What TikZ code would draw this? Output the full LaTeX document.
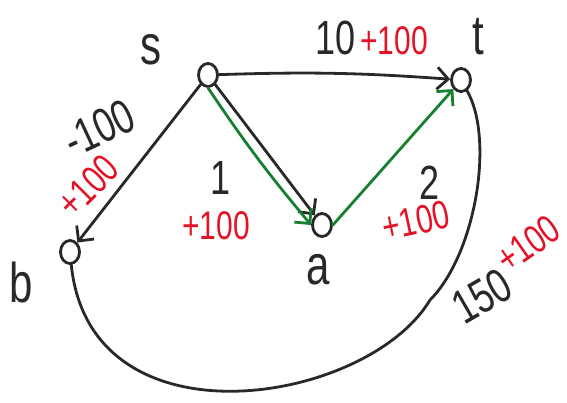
\documentclass[tikz,border=0pt]{standalone}
\usepackage{fontspec}
\setmainfont{Liberation Sans}[FakeStretch=0.75]
\usepackage{xcolor}
\usetikzlibrary{arrows.meta}
\usetikzlibrary{shapes.geometric}

\definecolor{penblack}{RGB}{40,40,40}
\definecolor{penred}{RGB}{228,18,38}
\definecolor{pengreen}{RGB}{22,128,48}

\tikzset{
    vertex/.style={draw=penblack, ellipse, line width=2.8pt, minimum width=19pt, minimum height=23pt, inner sep=0pt},
    edge/.style={draw=penblack, line width=2.8pt, line cap=round, -{Straight Barb[length=11pt,width=22pt]}},
    greenedge/.style={draw=pengreen, line width=2.8pt, line cap=round, -{Straight Barb[length=11pt,width=22pt]}},
    plainedge/.style={draw=penblack, line width=2.8pt, line cap=round},
    letter/.style={text=penblack, inner sep=0pt, font=\fontsize{56}{56}\selectfont},
    weight/.style={text=penblack, inner sep=0pt, font=\fontsize{48}{48}\selectfont},
    extra/.style={text=penred, inner sep=0pt, font=\fontsize{40}{40}\selectfont}
}

\begin{document}
\begin{tikzpicture}[x=1pt, y=-1pt]
    \useasboundingbox (0,0) rectangle (567,402);

    \node[vertex] (s) at (208,75) {};
    \node[vertex] (t) at (461,80) {};
    \node[vertex] (a) at (322,225) {};
    \node[vertex] (b) at (70,252) {};

    \node[letter] (sl) at (151,50) {s};
    \node[letter] (tl) at (478,37) {t};
    \node[letter] (al) at (318,270) {a};
    \node[letter] (bl) at (21,282) {b};

    \draw[edge] (s) to[bend left=3] (t);
    \draw[edge] (s) -- (a);
    \draw[edge] (s) -- (b);
    \draw[plainedge] (b) .. controls (90,450) and (367,405) .. (430,300)
        .. controls (475,255) and (495,140) .. (t);

    \draw[greenedge] (s.south) to[bend right=3] (a.west);
    \draw[greenedge] (a.east) -- (t.south west);

    \node[weight] (w1) at (336,38) {10};
    \node[extra] (x1) at (394,41) {+100};
    \node[weight] (w2) at (221,178) {1};
    \node[extra] (x2) at (216,226) {+100};
    \node[weight] (w3) at (430,183) {2};
    \node[extra, rotate=12] (x3) at (416,221) {+100};
    \node[weight, rotate=25] (w4) at (99,128) {-100};
    \node[extra, rotate=45] (x4) at (88,186) {+100};
    \node[weight, rotate=30] (w5) at (482,296) {150};
    \node[extra, rotate=35] (x5) at (528,244) {+100};
\end{tikzpicture}
\end{document}
